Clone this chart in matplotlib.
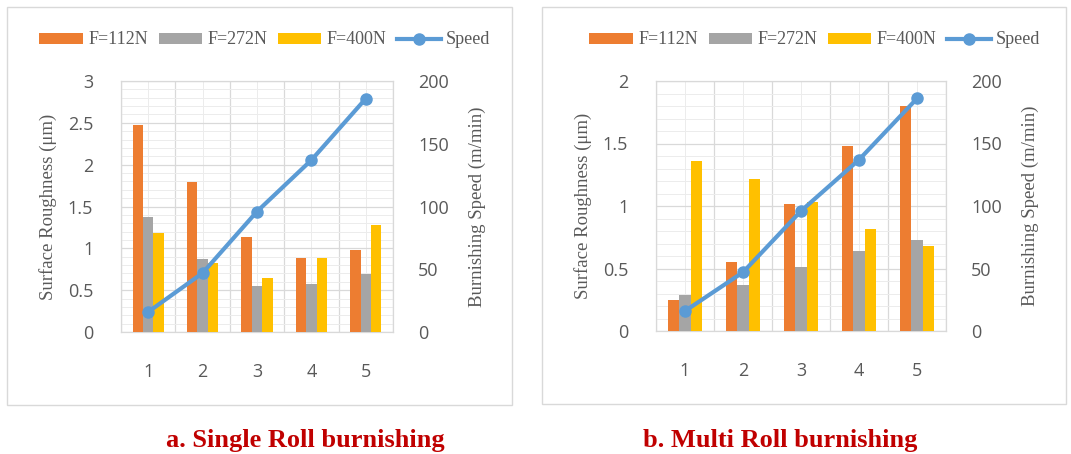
import matplotlib
matplotlib.use("Agg")
import matplotlib.pyplot as plt
import numpy as np
from matplotlib.patches import Rectangle, Patch
from matplotlib.lines import Line2D
from matplotlib.ticker import MultipleLocator

categories = ["1", "2", "3", "4", "5"]
speed = [16, 47, 96, 137, 186]

single_f112 = [2.47, 1.79, 1.13, 0.89, 0.98]
single_f272 = [1.38, 0.87, 0.55, 0.57, 0.69]
single_f400 = [1.18, 0.82, 0.64, 0.88, 1.28]

multi_f112 = [0.25, 0.55, 1.02, 1.48, 1.80]
multi_f272 = [0.29, 0.37, 0.51, 0.64, 0.73]
multi_f400 = [1.36, 1.22, 1.03, 0.82, 0.68]

series_labels = ["F=112N", "F=272N", "F=400N"]
speed_label = "Speed"
captions = ["a. Single Roll burnishing", "b. Multi Roll burnishing"]

colors = ["#ED7D31", "#A5A5A5", "#FFC000"]
line_color = "#5B9BD5"
tick_color = "#595959"
serif = ["Liberation Serif", "DejaVu Serif"]
sans = ["Open Sans", "DejaVu Sans"]

W, H = 1071, 454
fig = plt.figure(figsize=(W / 100, H / 100), dpi=100)

def fx(px):
    return px / W

def fy(py):
    return 1 - py / H

def panel(box, ax_rect, bars, ymax, ystep, caption, cap_x, legend_x, bw):
    x0, y0, x1, y1 = box
    fig.patches.append(Rectangle((fx(x0), fy(y1)), fx(x1) - fx(x0), fy(y0) - fy(y1),
                                 transform=fig.transFigure, fill=False,
                                 edgecolor="#D9D9D9", linewidth=1.0))
    l, t, r, b = ax_rect
    ax = fig.add_axes([fx(l), fy(b), fx(r) - fx(l), fy(t) - fy(b)])
    x = np.arange(len(categories))
    for i, vals in enumerate(bars):
        ax.bar(x + (i - 1) * bw, vals, width=bw, color=colors[i], zorder=3)
    ax.set_xlim(-0.5, len(categories) - 0.5)
    ax.set_ylim(0, ymax)
    ax.yaxis.set_major_locator(MultipleLocator(ystep))
    ax.yaxis.set_minor_locator(MultipleLocator(ystep / 5))
    ax.set_xticks(x)
    ax.set_xticklabels(categories)
    ax.set_xticks(np.arange(-0.5, len(categories), 1.0), minor=True)
    ax.grid(which="major", axis="y", color="#D9D9D9", linewidth=0.9, zorder=0)
    ax.grid(which="minor", axis="y", color="#ECECEC", linewidth=0.7, zorder=0)
    ax.grid(which="minor", axis="x", color="#D9D9D9", linewidth=0.9, zorder=0)
    ax.grid(which="major", axis="x", color="#ECECEC", linewidth=0.7, zorder=0)
    ax.set_axisbelow(True)
    for s in ax.spines.values():
        s.set_color("#D9D9D9")
        s.set_linewidth(0.9)
    ax.tick_params(which="both", length=0)
    ax.tick_params(axis="y", pad=20, labelsize=13, labelcolor=tick_color)
    ax.tick_params(axis="x", pad=22, labelsize=13, labelcolor=tick_color)
    for lab in ax.get_xticklabels() + ax.get_yticklabels():
        lab.set_family(sans)
    fmt = lambda v, p: ("%g" % v)
    ax.yaxis.set_major_formatter(matplotlib.ticker.FuncFormatter(fmt))
    ax.set_ylabel("Surface Roughness (μm)", family=serif, fontsize=13.5,
                  color=tick_color, labelpad=8)

    ax2 = ax.twinx()
    ax2.plot(x, speed, color=line_color, linewidth=3, marker="o", markersize=8,
             zorder=5)
    ax2.set_ylim(0, 200)
    ax2.yaxis.set_major_locator(MultipleLocator(50))
    for s in ax2.spines.values():
        s.set_visible(False)
    ax2.tick_params(length=0, pad=18, labelsize=13, labelcolor=tick_color)
    for lab in ax2.get_yticklabels():
        lab.set_family(sans)
    ax2.set_ylabel("Burnishing Speed (m/min)", family=serif, fontsize=13.5,
                   color=tick_color, labelpad=14)

    handles = [Patch(facecolor=c) for c in colors] + [
        Line2D([0], [0], color=line_color, linewidth=3, marker="o", markersize=8)]
    fig.legend(handles, series_labels + [speed_label], loc="center",
               bbox_to_anchor=(fx(legend_x), fy(40)), ncol=4, frameon=False,
               prop={"family": serif, "size": 13}, labelcolor=tick_color,
               handlelength=2.4, handleheight=0.55, handletextpad=0.3,
               columnspacing=0.6)
    fig.text(fx(cap_x), fy(440), caption, ha="center", va="center",
             family=serif, fontsize=19, fontweight="bold", color="#C00000")
    return ax

panel((7, 7, 512, 405), (121, 81, 393, 332),
      [single_f112, single_f272, single_f400], 3, 0.5,
      captions[0], 305, 265, 0.19)
panel((542, 7, 1066, 404), (656, 81, 946, 331),
      [multi_f112, multi_f272, multi_f400], 2, 0.5,
      captions[1], 780, 815, 0.2)

fig.savefig("out.png", dpi=100)
